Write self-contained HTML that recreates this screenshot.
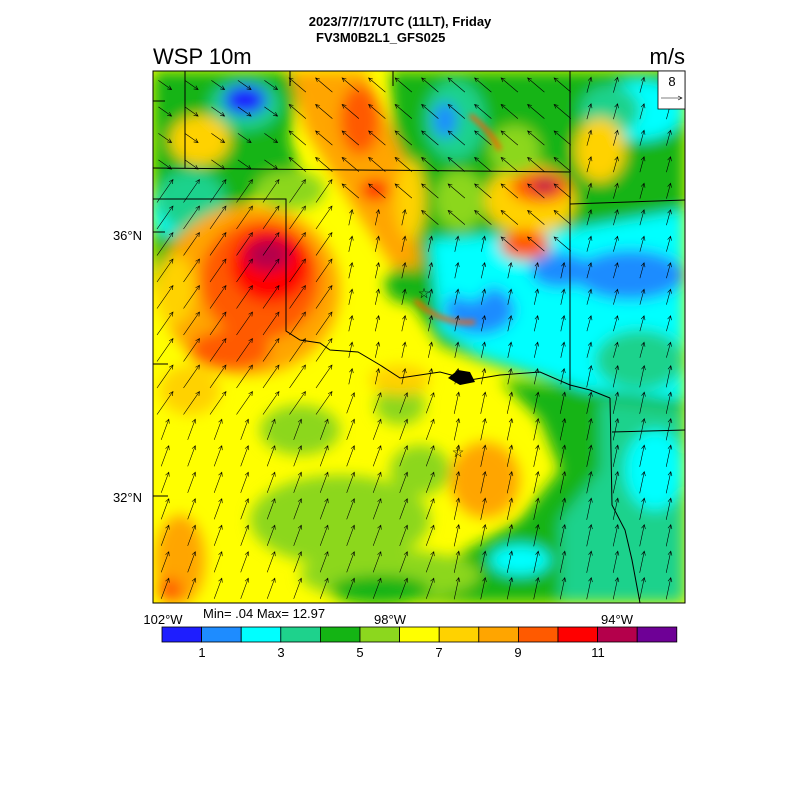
<!DOCTYPE html>
<html><head><meta charset="utf-8"><style>
body{margin:0;background:#fff;width:800px;height:800px;overflow:hidden}
svg{position:absolute;left:0;top:0}
text{font-family:"Liberation Sans",sans-serif}
</style></head><body>
<svg width="800" height="800" xmlns="http://www.w3.org/2000/svg">
<defs>
<filter id="b" x="-50%" y="-50%" width="200%" height="200%"><feGaussianBlur stdDeviation="7"/></filter>
<filter id="s" x="-50%" y="-50%" width="200%" height="200%"><feGaussianBlur stdDeviation="3"/></filter>
<clipPath id="c"><rect x="153" y="71" width="532" height="532"/></clipPath>
</defs>
<text x="400" y="26" font-size="13" font-weight="bold" text-anchor="middle">2023/7/7/17UTC (11LT), Friday</text>
<text x="316" y="42" font-size="13" font-weight="bold">FV3M0B2L1_GFS025</text>
<text x="153" y="64" font-size="22">WSP 10m</text>
<text x="685" y="64" font-size="22" text-anchor="end">m/s</text>
<g clip-path="url(#c)">
<rect x="153" y="71" width="532" height="532" fill="#ffff00"/>
<g filter="url(#b)">
<!-- NE region -->
<path d="M390 71 L685 71 L685 420 L600 410 L560 385 L480 360 L440 345 L410 300 L400 230 L395 160 Z" fill="#14b414"/>
<path d="M430 240 L570 230 L685 210 L685 420 L610 400 L560 380 L480 355 L440 330 Z" fill="#00ffff"/>
<path d="M570 230 L685 215 L685 400 L600 380 Z" fill="#00ffff"/>
<ellipse cx="630" cy="275" rx="55" ry="25" fill="#1e8cff"/>
<ellipse cx="560" cy="270" rx="30" ry="18" fill="#1e8cff"/>
<ellipse cx="480" cy="310" rx="35" ry="25" fill="#1e8cff"/>
<ellipse cx="470" cy="280" rx="20" ry="20" fill="#00ffff"/>
<ellipse cx="455" cy="120" rx="30" ry="40" fill="#1ed28c"/>
<ellipse cx="445" cy="120" rx="12" ry="18" fill="#1e8cff"/>
<ellipse cx="640" cy="110" rx="45" ry="30" fill="#00ffff"/>
<ellipse cx="610" cy="110" rx="30" ry="25" fill="#1ed28c"/>
<ellipse cx="600" cy="150" rx="25" ry="32" fill="#ffd200"/>
<ellipse cx="530" cy="200" rx="45" ry="35" fill="#ffd200"/>
<ellipse cx="540" cy="187" rx="30" ry="16" fill="#ff5a00"/>
<ellipse cx="545" cy="185" rx="12" ry="8" fill="#b4004b"/>
<ellipse cx="525" cy="245" rx="25" ry="15" fill="#ff5a00"/>
<ellipse cx="515" cy="150" rx="25" ry="25" fill="#8cd71e"/>
<ellipse cx="460" cy="200" rx="25" ry="30" fill="#8cd71e"/>
<ellipse cx="640" cy="360" rx="45" ry="30" fill="#1ed28c"/>
<!-- top-left -->
<path d="M153 71 L300 71 L290 140 L300 170 L250 200 L230 260 L153 290 Z" fill="#14b414"/>
<ellipse cx="245" cy="105" rx="35" ry="25" fill="#1ed28c"/>
<ellipse cx="245" cy="100" rx="22" ry="15" fill="#1e1eff"/>
<ellipse cx="200" cy="140" rx="30" ry="25" fill="#ffd200"/>
<ellipse cx="168" cy="210" rx="18" ry="25" fill="#00ffff"/>
<ellipse cx="190" cy="200" rx="35" ry="30" fill="#1ed28c"/>
<ellipse cx="290" cy="190" rx="35" ry="20" fill="#8cd71e"/>
<!-- orange diagonal band -->
<path d="M290 71 L365 71 L410 170 L420 270 L395 270 L355 210 L305 130 Z" fill="#ffa500"/>
<ellipse cx="360" cy="120" rx="20" ry="35" fill="#ff5a00"/>
<ellipse cx="375" cy="190" rx="14" ry="10" fill="#ff0000"/>
<ellipse cx="410" cy="200" rx="15" ry="40" fill="#ffd200"/>
<ellipse cx="405" cy="285" rx="20" ry="18" fill="#14b414"/>
<!-- west blob -->
<ellipse cx="250" cy="290" rx="90" ry="85" fill="#ffa500"/>
<ellipse cx="260" cy="280" rx="60" ry="60" fill="#ff5a00"/>
<ellipse cx="270" cy="265" rx="40" ry="38" fill="#ff0000"/>
<ellipse cx="268" cy="255" rx="22" ry="16" fill="#b4004b"/>
<ellipse cx="175" cy="290" rx="20" ry="35" fill="#ffd200"/>
<ellipse cx="230" cy="350" rx="40" ry="20" fill="#ff5a00"/>
<!-- south -->
<path d="M500 380 L685 400 L685 603 L420 603 L450 560 L520 520 L560 470 L540 420 Z" fill="#14b414"/>
<path d="M600 400 L685 410 L685 603 L560 603 L560 520 L600 470 Z" fill="#1ed28c"/>
<ellipse cx="655" cy="470" rx="30" ry="40" fill="#00ffff"/>
<ellipse cx="520" cy="560" rx="30" ry="15" fill="#00ffff"/>
<ellipse cx="340" cy="520" rx="90" ry="45" fill="#8cd71e"/>
<ellipse cx="390" cy="575" rx="90" ry="25" fill="#8cd71e"/>
<ellipse cx="300" cy="430" rx="40" ry="25" fill="#8cd71e"/>
<ellipse cx="420" cy="470" rx="30" ry="25" fill="#8cd71e"/>
<ellipse cx="380" cy="590" rx="50" ry="15" fill="#14b414"/>
<ellipse cx="485" cy="480" rx="35" ry="38" fill="#ffa500"/>
<ellipse cx="400" cy="405" rx="25" ry="20" fill="#8cd71e"/>
<ellipse cx="180" cy="560" rx="25" ry="45" fill="#ffa500"/>
<ellipse cx="170" cy="590" rx="12" ry="12" fill="#ff5a00"/>
<ellipse cx="190" cy="390" rx="30" ry="25" fill="#ffd200"/>
<ellipse cx="400" cy="380" rx="30" ry="15" fill="#ffd200"/>
</g>
<g filter="url(#s)" fill="none" stroke-width="4">
<path d="M415 300 Q440 325 475 322" stroke="#ff5a00"/>
<path d="M470 115 Q490 130 500 150" stroke="#ff5a00"/>
</g>
<g id="arr" stroke="#000" stroke-width="0.6" fill="none"></g>
<g stroke="#000" stroke-width="1" fill="none">
<path d="M185 71 L185 168"/>
<path d="M290 71 L290 86"/><path d="M393 71 L393 86"/>
<path d="M153 101 L165 101"/><path d="M153 232 L165 232"/><path d="M153 364 L168 364"/><path d="M153 496 L168 496"/>
<path d="M153 168 L570 172"/>
<path d="M153 199 L286 199 L286 331 L300 340 L320 343 L330 350 L358 352 L380 365 L400 378 L440 372 L470 380 L500 375 L540 372 L570 385 L590 390 L610 398"/>
<path d="M570 71 L570 172 L570 390"/>
<path d="M570 204 L685 200"/>
<path d="M610 398 L612 505 L625 530 L632 560 L640 603"/>
<path d="M612 432 L685 430"/>
</g>
<path d="M448 378 L458 370 L470 372 L475 382 L460 385 Z" fill="#000"/>
<text x="424" y="298" font-size="14" text-anchor="middle">☆</text>
<text x="458" y="457" font-size="14" text-anchor="middle">☆</text>
</g>
<rect x="153" y="71" width="532" height="532" fill="none" stroke="#000" stroke-width="1"/>
<rect x="658" y="71" width="27" height="38" fill="#fff" stroke="#000" stroke-width="0.8"/>
<text x="672" y="86" font-size="13" text-anchor="middle">8</text>
<path d="M661 98 L682 98 M678 96 L682 98 L678 100" stroke="#000" stroke-width="0.6" fill="none"/>
<text x="142" y="240" font-size="13" text-anchor="end">36°N</text>
<text x="142" y="502" font-size="13" text-anchor="end">32°N</text>
<text x="163" y="624" font-size="13" text-anchor="middle">102°W</text>
<text x="390" y="624" font-size="13" text-anchor="middle">98°W</text>
<text x="617" y="624" font-size="13" text-anchor="middle">94°W</text>
<text x="203" y="618" font-size="13">Min= .04 Max= 12.97</text>
<g id="cb" stroke="#000" stroke-width="0.8"></g>
<g font-size="13" text-anchor="middle">
<text x="202" y="657">1</text><text x="281" y="657">3</text><text x="360" y="657">5</text><text x="439" y="657">7</text><text x="518" y="657">9</text><text x="598" y="657">11</text>
</g>
</svg>
<script>
var cols=["#1e1eff","#1e8cff","#00ffff","#1ed28c","#14b414","#8cd71e","#ffff00","#ffd200","#ffa500","#ff5a00","#ff0000","#b4004b","#6e0096"];
var cb=document.getElementById("cb"),h="";
for(var i=0;i<13;i++){h+='<rect x="'+(162+i*39.6)+'" y="627" width="39.6" height="15" fill="'+cols[i]+'"/>';}
cb.innerHTML=h;
var a=document.getElementById("arr"),s="";
for(var y=85;y<603;y+=26.5){for(var x=165;x<685;x+=26.5){
 var ang,L=20;
 if(y<175&&x<290){ang=125;L=16;}
 else if(x>=290&&x<565&&y<175+(x-290)*0.35&&!(x<340&&y>190)){ang=-50;L=22;}
 else if(x>=570&&y<360){ang=15;L=16;}
 else if(x<330&&y<420){ang=35;L=28;}
 else if(y<400&&x<570){ang=12;L=16;}
 else {ang=x<450?20:12;L=22;}
 var r=ang*Math.PI/180,hx=Math.sin(r),hy=-Math.cos(r),dx=hx*L,dy=hy*L;
 var x0=x-dx/2,y0=y-dy/2,x1=x+dx/2,y1=y+dy/2,px=-hy,py=hx;
 s+='<path d="M'+x0.toFixed(1)+' '+y0.toFixed(1)+'L'+x1.toFixed(1)+' '+y1.toFixed(1)+'M'+(x1-hx*4+px*2).toFixed(1)+' '+(y1-hy*4+py*2).toFixed(1)+'L'+x1.toFixed(1)+' '+y1.toFixed(1)+'L'+(x1-hx*4-px*2).toFixed(1)+' '+(y1-hy*4-py*2).toFixed(1)+'"/>';
}}
a.innerHTML=s;
</script>
</body></html>
